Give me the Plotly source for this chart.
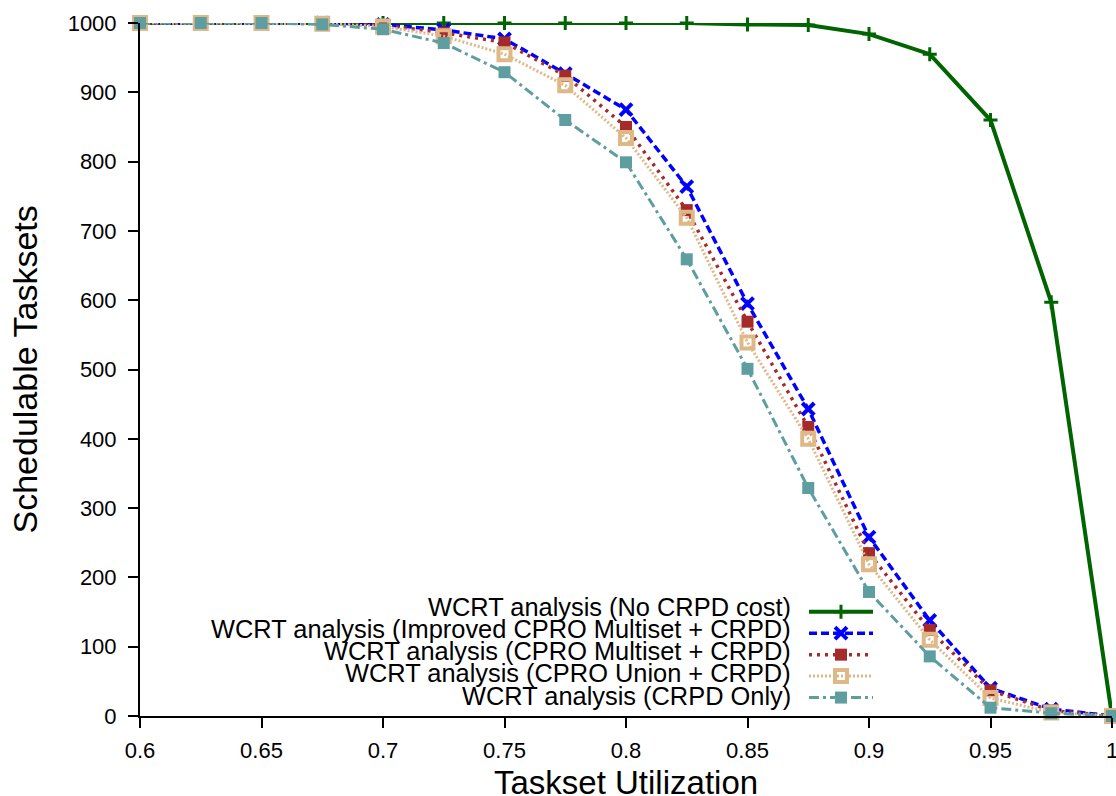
import plotly.graph_objects as go

# ---- data ----
utilization = [0.6, 0.625, 0.65, 0.675, 0.7, 0.725, 0.75, 0.775, 0.8,
               0.825, 0.85, 0.875, 0.9, 0.925, 0.95, 0.975, 1.0]
no_crpd = [1000, 1000, 1000, 1000, 1000, 1000, 1000, 1000, 1000,
           1000, 998, 997, 984, 955, 860, 597, 0]
improved_multiset = [1000, 1000, 1000, 1000, 998, 990, 977, 927, 875,
                     764, 595, 443, 258, 138, 40, 10, 0]
cpro_multiset = [1000, 1000, 1000, 1000, 997, 986, 972, 924, 850,
                 730, 569, 417, 235, 124, 37, 8, 0]
cpro_union = [1000, 1000, 1000, 999, 995, 981, 955, 910, 834,
              719, 539, 400, 219, 110, 26, 5, 0]
crpd_only = [1000, 1000, 1000, 998, 991, 971, 929, 860, 799,
             659, 501, 329, 179, 86, 12, 4, 0]

series_names = [
    "WCRT analysis (No CRPD cost)",
    "WCRT analysis (Improved CPRO Multiset + CRPD)",
    "WCRT analysis (CPRO Multiset + CRPD)",
    "WCRT analysis (CPRO Union + CRPD)",
    "WCRT analysis (CRPD Only)",
]
x_title = "Taskset Utilization"
y_title = "Schedulable Tasksets"
x_tick_vals = [0.6, 0.65, 0.7, 0.75, 0.8, 0.85, 0.9, 0.95, 1.0]
x_tick_text = ["0.6", "0.65", "0.7", "0.75", "0.8", "0.85", "0.9", "0.95", "1"]
y_tick_vals = [0, 100, 200, 300, 400, 500, 600, 700, 800, 900, 1000]

# ---- styles ----
styles = [
    dict(color="#006400", width=4, dash="solid", symbol="cross-thin-open", size=10, mlw=3),
    dict(color="#0000FF", width=3.5, dash="8px,4px", symbol="x-thin-open", size=12, mlw=4),
    dict(color="#A52A2A", width=3.5, dash="3px,5px", symbol="square", size=12, mlw=0),
    dict(color="#DEB887", width=3, dash="2px,2px", symbol="square-open", size=12, mlw=4),
    dict(color="#5F9EA0", width=3, dash="10px,4px,3px,4px", symbol="square", size=12, mlw=0),
]
series_values = [no_crpd, improved_multiset, cpro_multiset, cpro_union, crpd_only]

FONT = "Liberation Sans, Arial, sans-serif"

fig = go.Figure()
for name, vals, st in zip(series_names, series_values, styles):
    fig.add_trace(go.Scatter(
        x=utilization, y=vals, mode="lines+markers",
        name=" ",
        line=dict(color=st["color"], width=st["width"], dash=st["dash"]),
        marker=dict(symbol=st["symbol"], size=st["size"], color=st["color"],
                    line=dict(color=st["color"], width=st["mlw"])),
        cliponaxis=False,
        hovertext=name,
    ))

# plot-area edges in page pixels
PL, PR, PT, PB = 140, 1112, 23, 716


def px_to_paper_x(px):
    return (px - PL) / (PR - PL)


def px_to_paper_y(py):
    return (PB - py) / (PB - PT)


# legend text (right-aligned, left of the legend samples)
row_y_px = [607, 629, 651, 673, 696]
for name, ypx in zip(series_names, row_y_px):
    fig.add_annotation(
        text=name, xref="paper", yref="paper",
        x=px_to_paper_x(793), y=px_to_paper_y(ypx),
        xanchor="right", yanchor="middle", showarrow=False,
        font=dict(family=FONT, size=25.4, color="black"),
    )

# axis titles
fig.add_annotation(
    text=x_title, xref="paper", yref="paper", x=0.5, y=px_to_paper_y(782),
    xanchor="center", yanchor="middle", showarrow=False,
    font=dict(family=FONT, size=33, color="black"),
)
fig.add_annotation(
    text=y_title, xref="paper", yref="paper", x=px_to_paper_x(24), y=0.5,
    xanchor="center", yanchor="middle", showarrow=False, textangle=-90,
    font=dict(family=FONT, size=34, color="black"),
)

fig.update_layout(
    width=1116, height=796,
    margin=dict(l=PL, r=1116 - PR, t=PT, b=796 - PB),
    paper_bgcolor="white", plot_bgcolor="white",
    font=dict(family=FONT, color="black"),
    showlegend=True,
    legend=dict(
        x=px_to_paper_x(804), y=px_to_paper_y(596),
        xanchor="left", yanchor="top",
        bgcolor="rgba(0,0,0,0)", font=dict(size=14.2, family=FONT),
        itemwidth=64, tracegroupgap=0,
    ),
    xaxis=dict(
        range=[0.6, 1.0], tickvals=x_tick_vals, ticktext=x_tick_text,
        showline=True, linecolor="black", linewidth=2, mirror=False,
        ticks="outside", ticklen=10, tickwidth=1.5, tickcolor="black",
        showgrid=False, zeroline=False,
        tickfont=dict(size=22, family=FONT, color="black"),
        ticklabelstandoff=4, ticklabeloverflow="allow",
        automargin=False,
    ),
    yaxis=dict(
        range=[0, 1000], tickvals=y_tick_vals,
        showline=True, linecolor="black", linewidth=2, mirror=False,
        ticks="outside", ticklen=10, tickwidth=1.5, tickcolor="black",
        showgrid=False, zeroline=False,
        tickfont=dict(size=22, family=FONT, color="black"),
        ticklabelstandoff=7,
        automargin=False,
    ),
)

fig.write_html(
    "out.html",
    config={"displayModeBar": False},
    post_script="document.body.style.margin='0';document.body.style.overflow='hidden';",
)
